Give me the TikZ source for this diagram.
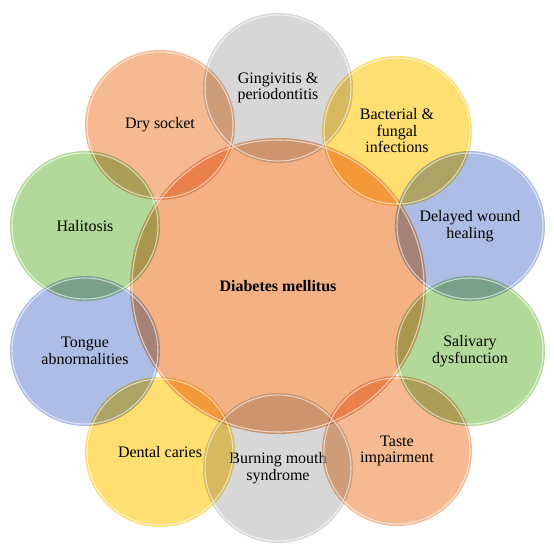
\documentclass[tikz,border=0pt]{standalone}
\usepackage{fontspec}
\setmainfont{Liberation Serif}
\usepackage{tikz}
\usetikzlibrary{positioning}
\definecolor{peach}{HTML}{F4B183}
\definecolor{silver}{HTML}{D2D2D2}
\definecolor{sun}{HTML}{FFD95E}
\definecolor{sky}{HTML}{A2B4E3}
\definecolor{leaf}{HTML}{A9D48C}
\tikzset{
  hub/.style={circle,fill=peach,minimum size=296pt,inner sep=0pt,align=center,
    font=\fontsize{16}{17}\selectfont\bfseries},
  petal/.style={circle,minimum size=150pt,inner sep=0pt,align=center,
    font=\fontsize{16}{16.5}\selectfont,blend mode=multiply,fill opacity=0.88,text opacity=1},
  petalo/.style={petal,fill=peach},
  petals/.style={petal,fill=silver},
  petaly/.style={petal,fill=sun},
  petalb/.style={petal,fill=sky},
  petalg/.style={petal,fill=leaf},
  rim/.style={draw=white,line width=1.1pt,draw opacity=0.6},
}
\begin{document}
\begin{tikzpicture}[x=1pt,y=-1pt]
  \useasboundingbox (0,0) rectangle (554,553);
  \node[hub] (dm) at (278,286) {Diabetes mellitus};
  % ring of oral complications
  \node[petals] (gum)    at (278,88)  {Gingivitis \&\\periodontitis};
  \node[petaly] (bact)   at (397,131) {Bacterial \&\\fungal\\infections};
  \node[petalb] (wound)  at (470,226) {Delayed wound\\healing};
  \node[petalg] (saliva) at (470,351) {Salivary\\dysfunction};
  \node[petalo] (taste)  at (397,451) {Taste\\impairment};
  \node[petals] (burn)   at (278,468) {Burning mouth\\syndrome};
  \node[petaly] (caries) at (160,452) {Dental caries};
  \node[petalb] (tongue) at (85,351)  {Tongue\\abnormalities};
  \node[petalg] (halit)  at (85,226)  {Halitosis};
  \node[petalo] (dry)    at (160,125) {Dry socket};
  % glassy rims
  \draw[rim] (dm.center) circle[radius=146pt];
  \foreach \n in {gum,bact,wound,saliva,taste,burn,caries,tongue,halit,dry}
    \draw[rim] (\n.center) circle[radius=73pt];
\end{tikzpicture}
\end{document}
